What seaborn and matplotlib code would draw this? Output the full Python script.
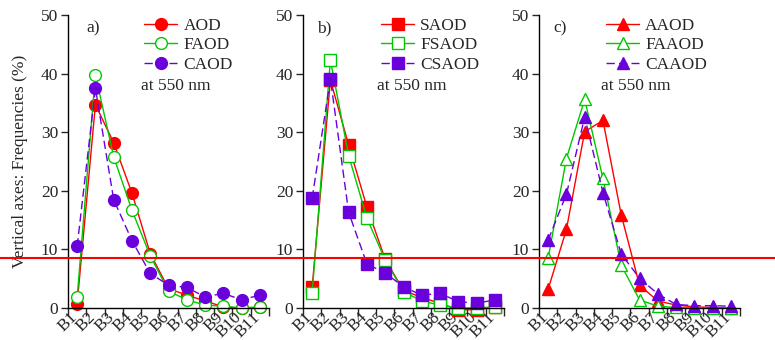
import matplotlib
matplotlib.use("Agg")
import matplotlib.pyplot as plt
import seaborn as sns
import pandas as pd
from matplotlib.lines import Line2D

sns.set_style("ticks")
plt.rcParams['font.family'] = ['Liberation Serif', 'DejaVu Serif']

bins = ["B1", "B2", "B3", "B4", "B5", "B6", "B7", "B8", "B9", "B10", "B11"]

# panel a
aod  = [0.7, 34.7, 28.2, 19.6, 9.3, 3.3, 2.2, 1.2, 0.2, 0.0, 0.1]
faod = [1.8, 39.8, 25.8, 16.7, 8.9, 2.9, 1.4, 0.5, 0.3, 0.0, 0.2]
caod = [10.5, 37.5, 18.5, 11.5, 5.9, 3.9, 3.5, 1.9, 2.5, 1.4, 2.2]
# panel b
saod  = [3.5, 38.9, 27.8, 17.2, 8.3, 3.0, 1.8, 0.8, -0.3, -0.3, 0.2]
fsaod = [2.5, 42.3, 26.0, 15.3, 8.2, 2.8, 1.2, 0.5, 0.0, 0.0, 0.2]
csaod = [18.7, 39.1, 16.3, 7.5, 6.0, 3.6, 2.2, 2.5, 1.1, 0.8, 1.4]
# panel c
aaod  = [3.2, 13.4, 30.1, 32.0, 15.9, 3.9, 1.2, 0.5, 0.2, 0.1, 0.0]
faaod = [8.5, 25.5, 35.6, 22.1, 7.3, 1.4, 0.3, 0.1, 0.0, 0.0, 0.0]
caaod = [11.6, 19.4, 32.6, 19.7, 9.2, 5.1, 2.4, 0.6, 0.4, 0.4, 0.3]

threshold = 8.5

panels = [
    ("a)", ["AOD", "FAOD", "CAOD"], [aod, faod, caod], "o"),
    ("b)", ["SAOD", "FSAOD", "CSAOD"], [saod, fsaod, csaod], "s"),
    ("c)", ["AAOD", "FAAOD", "CAAOD"], [aaod, faaod, caaod], "^"),
]

RED = "#FF0000"
GREEN = "#00C800"
PURPLE = "#6A00DC"

fig = plt.figure(figsize=(7.75, 3.4), dpi=100)
lefts = [68, 303, 539]
leg_x = [0.345, 0.355, 0.30]
txt_x = [0.365, 0.37, 0.31]
lab_x = [0.09, 0.07, 0.07]
fs = 12.5

axes = []
for i, (lab, names, series, mk) in enumerate(panels):
    ax = fig.add_axes([lefts[i] / 775, 32 / 340, 201 / 775, 293 / 340])
    axes.append(ax)
    xs = [k + 0.5 for k in range(len(bins))]
    styles = [
        dict(color=RED, markerfacecolor=RED, markeredgecolor=RED, linestyle="-"),
        dict(color=GREEN, markerfacecolor="white", markeredgecolor=GREEN, linestyle="-"),
        dict(color=PURPLE, markerfacecolor=PURPLE, markeredgecolor=PURPLE, linestyle=(0, (6, 3))),
    ]
    handles = []
    for name, vals, st in zip(names, series, styles):
        df = pd.DataFrame({"x": xs, "y": vals})
        sns.lineplot(data=df, x="x", y="y", ax=ax, marker=mk, markersize=8.5,
                     markeredgewidth=1.0, linewidth=1.0, clip_on=False,
                     legend=False, **st)
        handles.append(Line2D([], [], marker=mk, markersize=8.5, markeredgewidth=1.0,
                              linewidth=1.0, **st))
    ax.set_xlim(0, 11)
    ax.set_ylim(0, 50)
    ax.set_xticks(range(0, 12))
    ax.set_xticklabels([])
    ax.set_xticks([k + 0.7 for k in range(len(bins))], minor=True)
    ax.set_xticklabels(bins, minor=True, rotation=45, ha="right", fontsize=fs)
    ax.tick_params(axis="x", which="minor", length=0, pad=1)
    ax.tick_params(axis="x", which="major", length=6, width=1.0, direction="out")
    ax.set_yticks(range(0, 51, 10))
    ax.tick_params(axis="y", length=5, width=1.0, labelsize=fs, pad=2)
    for s in ["top", "right"]:
        ax.spines[s].set_visible(False)
    for s in ["left", "bottom"]:
        ax.spines[s].set_linewidth(1.0)
        ax.spines[s].set_color("black")
    ax.set_xlabel("")
    ax.set_ylabel("")
    ax.legend(handles, names, loc="upper left", bbox_to_anchor=(leg_x[i], 1.015),
              frameon=False, fontsize=fs, handlelength=1.9, handletextpad=0.35,
              labelspacing=0.2, borderpad=0.2, borderaxespad=0.2)
    ax.text(txt_x[i], 0.757, "at 550 nm", transform=ax.transAxes, fontsize=fs,
            ha="left", va="center")
    ax.text(lab_x[i], 0.955, lab, transform=ax.transAxes, fontsize=fs,
            ha="left", va="center")

axes[0].set_ylabel("Vertical axes: Frequencies (%)", fontsize=fs)
axes[0].yaxis.set_label_coords(-0.20, 0.5)

# figure-wide horizontal threshold line
fig.canvas.draw()
yfig = fig.transFigure.inverted().transform(axes[0].transData.transform((0, threshold)))[1]
fig.add_artist(Line2D([0, 1], [yfig, yfig], transform=fig.transFigure, color=RED, linewidth=1.5))

fig.savefig("out.png", dpi=100)
